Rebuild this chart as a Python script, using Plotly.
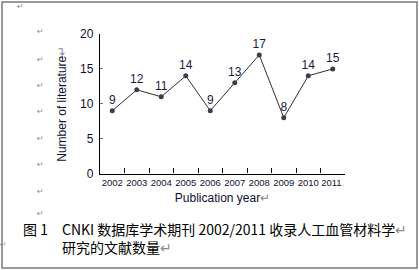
import plotly.graph_objects as go

years = ["2002", "2003", "2004", "2005", "2006", "2007", "2008", "2009", "2010", "2011"]
counts = [9, 12, 11, 14, 9, 13, 17, 8, 14, 15]
y_ticks = [0, 5, 10, 15, 20]
tick_text_x = years[:-1] + ["2011<span style='color:#b0b0b0'>.</span>"]

W, H = 419, 270
FONT = "Liberation Sans, Arial, Noto Sans CJK SC"
CJK = "Noto Sans CJK SC, Liberation Sans"
GRAY = "#8a8a8a"

fig = go.Figure()
fig.add_trace(go.Scatter(
    x=years, y=counts, mode="lines+markers+text",
    text=[str(v) for v in counts], textposition="top center",
    textfont=dict(size=12, color="#1a1a40", family=FONT),
    line=dict(color="#303030", width=1),
    marker=dict(size=5, color="#3c3c50", symbol="circle"),
    cliponaxis=False, hoverinfo="skip",
))

def px_x(p):
    return p / W

def px_y(p):
    return 1 - p / H

fig.update_layout(
    width=W, height=H, autosize=False,
    margin=dict(l=0, r=0, t=0, b=0, pad=0),
    paper_bgcolor="white", plot_bgcolor="white",
    showlegend=False,
    font=dict(family=FONT, color="#000000"),
    xaxis=dict(
        type="category", domain=[px_x(100), px_x(345)], range=[-0.5, 9.5],
        tickson="boundaries", ticks="inside", ticklen=5, tickcolor="#000000", tickwidth=1,
        tickvals=years, ticktext=tick_text_x, tickangle=0, automargin=False,
        tickfont=dict(size=9.5, family=FONT, color="#101030"),
        showline=True, linecolor="#000000", linewidth=1.3,
        showgrid=False, zeroline=False, fixedrange=True,
        title=dict(text="Publication year<span style='color:#8a8a8a'>↵</span>",
                   font=dict(size=12, family=FONT, color="#101030"), standoff=6),
    ),
    yaxis=dict(
        domain=[px_y(173.5), px_y(34)], range=[0, 20], automargin=False,
        tickvals=y_ticks, ticks="inside", ticklen=3, tickcolor="#707070",
        ticklabelstandoff=3,
        tickfont=dict(size=12, family=FONT, color="#101030"),
        showline=True, linecolor="#000000", linewidth=1.3,
        showgrid=False, zeroline=False, fixedrange=True,
        title=dict(text="Number of literature<span style='color:#8a8a8a'>↵</span>",
                   font=dict(size=12, family=FONT, color="#101030"), standoff=10),
    ),
)

# page border
fig.add_shape(type="rect", xref="paper", yref="paper",
              x0=px_x(2), x1=px_x(417), y0=px_y(268), y1=px_y(2),
              line=dict(color="#7a7a7a", width=1.5))

# paragraph marks
marks = [(20, 6), (40, 32), (40, 59), (40, 85), (40, 112), (40, 138),
         (40, 164), (40, 191), (40, 213), (3, 244)]
for mx, my in marks:
    fig.add_annotation(x=px_x(mx), y=px_y(my), xref="paper", yref="paper",
                       text="↵", showarrow=False, xanchor="center", yanchor="middle",
                       font=dict(size=8, color=GRAY, family="DejaVu Sans"))

# caption
fig.add_annotation(x=px_x(21), y=px_y(228.5), xref="paper", yref="paper",
                   text="图 1", showarrow=False, xanchor="left", yanchor="middle",
                   font=dict(size=14, family=CJK, color="#000000"))
fig.add_annotation(x=px_x(60), y=px_y(237.5), xref="paper", yref="paper",
                   text=("CNKI 数据库学术期刊 2002/2011 收录人工血管材料学<span style='color:#8a8a8a'>↵</span>"
                         "<br>研究的文献数量<span style='color:#8a8a8a'>↵</span>"),
                   showarrow=False, xanchor="left", yanchor="middle", align="left",
                   font=dict(size=14, family=CJK, color="#000000"))

fig.write_html(
    "out.html",
    config={"displayModeBar": False},
    post_script="document.body.style.margin='0';document.body.style.padding='0';document.body.style.overflow='hidden';",
)
